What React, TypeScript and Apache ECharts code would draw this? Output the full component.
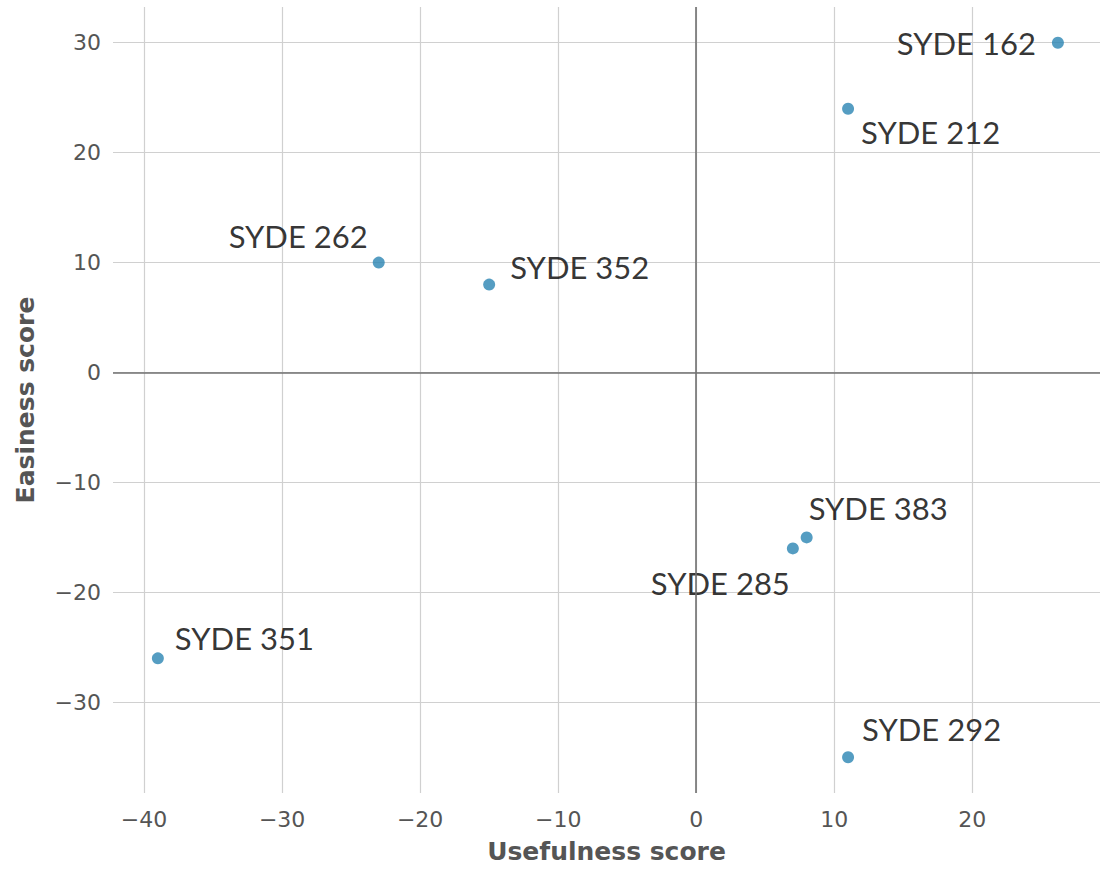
import React, { useEffect, useRef } from "react";
import * as echarts from "echarts";

const courses = ["SYDE 162", "SYDE 212", "SYDE 262", "SYDE 352", "SYDE 383", "SYDE 285", "SYDE 351", "SYDE 292"];
const usefulness = [26.2, 11, -23, -15, 8, 7, -39, 11];
const easiness = [30, 24, 10, 8, -15, -16, -26, -35];

// label placement (style only): [align, dx, dy]
const labelPlacement: [string, number, number][] = [
  ["right", -22, 0],
  ["left", 13, 23],
  ["right", -11, -27],
  ["left", 21, -18],
  ["left", 2, -29],
  ["right", -3, 35],
  ["left", 17, -20],
  ["left", 14, -28],
];

const xMin = -42.25, xMax = 29.25, yMin = -38.25, yMax = 33.25;

export default function App() {
  const ref = useRef<HTMLDivElement>(null);
  useEffect(() => {
    if (!ref.current) return;
    const chart = echarts.init(ref.current, null, { renderer: "svg" });
    const data = courses.map((c, i) => {
      const [align, dx, dy] = labelPlacement[i];
      return {
        name: c,
        value: [usefulness[i], easiness[i]],
        label: {
          show: true,
          position: "inside",
          align,
          verticalAlign: "middle",
          offset: [dx, dy],
          formatter: c,
          fontFamily: "Lato",
          fontSize: 31,
          color: "#000",
        },
      };
    });
    const tickLabel = { color: "#555", fontFamily: "DejaVu Sans", fontSize: 22 };
    const fmt = (v: number) => (v < 0 ? "\u2212" + Math.abs(v) : String(v));
    chart.setOption({
      animation: false,
      backgroundColor: "#fff",
      grid: { left: 113, right: 8, top: 7, bottom: 67, containLabel: false },
      xAxis: {
        type: "value",
        min: xMin,
        max: xMax,
        minInterval: 10,
        maxInterval: 10,
        name: "Usefulness score",
        nameLocation: "middle",
        nameGap: 46,
        nameTextStyle: { color: "#555", fontFamily: "DejaVu Sans", fontWeight: "bold", fontSize: 25 },
        axisLine: { show: false },
        axisTick: { show: false },
        axisLabel: { ...tickLabel, margin: 15, showMinLabel: false, showMaxLabel: false, formatter: fmt },
        splitLine: { show: true, showMinLine: false, showMaxLine: false, lineStyle: { color: "#d0d0d0", width: 1.2 } },
      },
      yAxis: {
        type: "value",
        min: yMin,
        max: yMax,
        minInterval: 10,
        maxInterval: 10,
        name: "Easiness score",
        nameLocation: "middle",
        nameGap: 75,
        nameTextStyle: { color: "#555", fontFamily: "DejaVu Sans", fontWeight: "bold", fontSize: 25 },
        axisLine: { show: false },
        axisTick: { show: false },
        axisLabel: { ...tickLabel, margin: 12, showMinLabel: false, showMaxLabel: false, formatter: fmt },
        splitLine: { show: true, showMinLine: false, showMaxLine: false, lineStyle: { color: "#d0d0d0", width: 1.2 } },
      },
      series: [
        {
          type: "scatter",
          symbolSize: 12,
          itemStyle: { color: "#2a84b3" },
          data,
          markLine: {
            silent: true,
            symbol: "none",
            label: { show: false },
            lineStyle: { color: "#707070", width: 1.6, type: "solid" },
            data: [{ xAxis: 0 }, { yAxis: 0 }],
          },
          z: 3,
        },
      ],
    });
    return () => chart.dispose();
  }, []);
  return <div ref={ref} style={{ position: "fixed", left: 0, top: 0, width: 1108, height: 869 }} />;
}
